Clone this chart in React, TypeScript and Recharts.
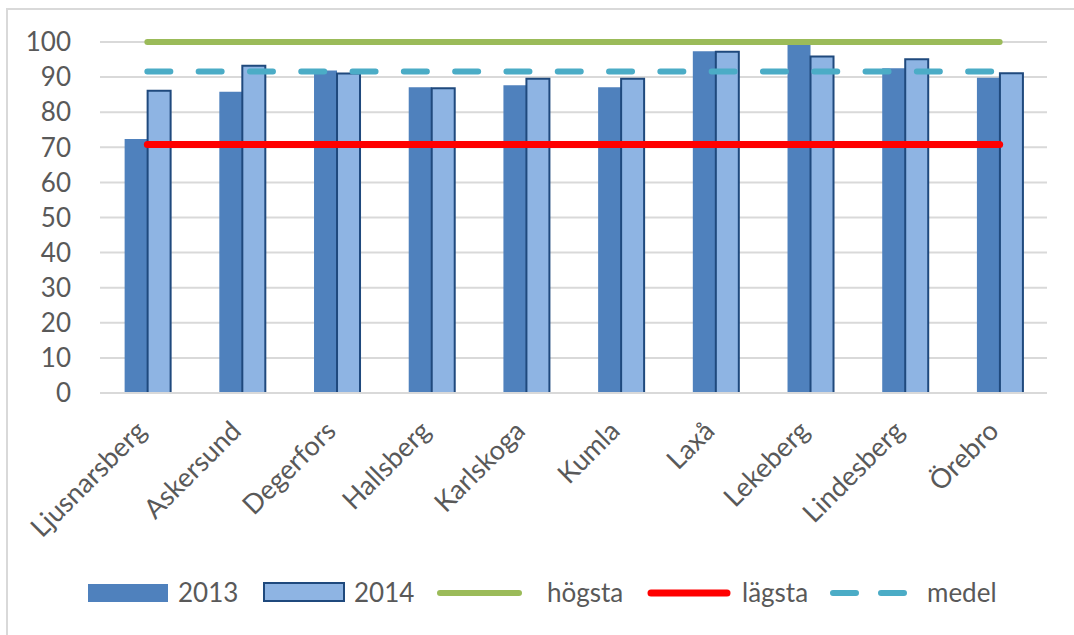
import React from 'react';
import { ComposedChart, Bar, Line, XAxis, YAxis, CartesianGrid } from 'recharts';

const categories = ['Ljusnarsberg', 'Askersund', 'Degerfors', 'Hallsberg', 'Karlskoga', 'Kumla', 'Laxå', 'Lekeberg', 'Lindesberg', 'Örebro'];
const values2013 = [72.4, 85.8, 91.9, 87.1, 87.7, 87.1, 97.4, 100, 92.5, 89.8];
const values2014 = [86.1, 93.2, 91.0, 86.8, 89.5, 89.5, 97.2, 95.9, 95.1, 91.1];
const hogsta = [100, 100, 100, 100, 100, 100, 100, 100, 100, 100];
const lagsta = [70.8, 70.8, 70.8, 70.8, 70.8, 70.8, 70.8, 70.8, 70.8, 70.8];
const medel = [91.6, 91.6, 91.6, 91.6, 91.6, 91.6, 91.6, 91.6, 91.6, 91.6];
const yTicks = [0, 10, 20, 30, 40, 50, 60, 70, 80, 90, 100];

const data = categories.map((name, i) => ({
  name,
  y2013: values2013[i],
  y2014: values2014[i],
  hogsta: hogsta[i],
  lagsta: lagsta[i],
  medel: medel[i],
}));

const FONT = 'Lato, "Open Sans", sans-serif';
const TEXT = '#595959';
const C2013 = '#4F81BD';
const C2014 = '#8EB4E3';
const C2014S = '#1F497D';
const GREEN = '#9BBB59';
const RED = '#FF0000';
const TEAL = '#4BACC6';

const XTick = (props: any) => {
  const { x, y, payload } = props;
  return (
    <text
      x={0}
      y={0}
      dy="0.35em"
      textAnchor="end"
      fill={TEXT}
      fontSize={27}
      fontFamily={FONT}
      transform={`translate(${x - 6},${y + 33}) rotate(-45)`}
    >
      {payload.value}
    </text>
  );
};

const legendText: React.CSSProperties = {
  fontFamily: FONT,
  fontSize: 26,
  color: TEXT,
  position: 'absolute',
  top: 577,
  lineHeight: '30px',
};

export default function App() {
  return (
    <div style={{ position: 'absolute', left: 0, top: 0, width: 1074, height: 635, overflow: 'hidden', background: '#fff' }}>
      <div style={{ position: 'absolute', left: 6, top: 8, width: 1200, height: 800, borderTop: '2px solid #D9D9D9', borderLeft: '2px solid #D9D9D9' }} />
      <div style={{ position: 'absolute', left: 0, top: 0 }}>
        <ComposedChart
          width={1074}
          height={635}
          data={data}
          margin={{ top: 42, right: 27, bottom: 0, left: 0 }}
          barCategoryGap="26%"
          barGap={0}
        >
          <CartesianGrid vertical={false} stroke="#D9D9D9" strokeWidth={2} />
          <XAxis
            dataKey="name"
            height={242}
            tickLine={false}
            tickSize={0}
            tickMargin={0}
            axisLine={{ stroke: '#D9D9D9', strokeWidth: 2 }}
            tick={<XTick />}
            interval={0}
          />
          <YAxis
            width={100}
            domain={[0, 100]}
            ticks={yTicks}
            axisLine={false}
            tickLine={false}
            tickSize={0}
            tickMargin={29}
            tick={{ fill: TEXT, fontSize: 26, fontFamily: FONT }}
            interval={0}
          />
          <Bar dataKey="y2013" fill={C2013} isAnimationActive={false} />
          <Bar dataKey="y2014" fill={C2014} stroke={C2014S} strokeWidth={2} isAnimationActive={false} />
          <Line dataKey="hogsta" stroke={GREEN} strokeWidth={6} strokeLinecap="round" dot={false} activeDot={false} isAnimationActive={false} />
          <Line dataKey="lagsta" stroke={RED} strokeWidth={7} strokeLinecap="round" dot={false} activeDot={false} isAnimationActive={false} />
          <Line dataKey="medel" stroke={TEAL} strokeWidth={6} strokeLinecap="round" strokeDasharray="23 28.3" dot={false} activeDot={false} isAnimationActive={false} />
        </ComposedChart>
      </div>
      {/* legend */}
      <div style={{ position: 'absolute', left: 88, top: 584, width: 80, height: 18, background: C2013 }} />
      <div style={{ ...legendText, left: 178 }}>2013</div>
      <div style={{ position: 'absolute', left: 263, top: 582, width: 78, height: 16, background: C2014, border: `2px solid ${C2014S}` }} />
      <div style={{ ...legendText, left: 354 }}>2014</div>
      <svg style={{ position: 'absolute', left: 0, top: 580 }} width={1074} height={30}>
        <line x1={440} y1={13} x2={519} y2={13} stroke={GREEN} strokeWidth={6} strokeLinecap="round" />
        <line x1={651} y1={13} x2={727} y2={13} stroke={RED} strokeWidth={7} strokeLinecap="round" />
        <line x1={833} y1={13} x2={904} y2={13} stroke={TEAL} strokeWidth={6} strokeLinecap="round" strokeDasharray="23 25" />
      </svg>
      <div style={{ ...legendText, left: 547 }}>högsta</div>
      <div style={{ ...legendText, left: 742 }}>lägsta</div>
      <div style={{ ...legendText, left: 927 }}>medel</div>
    </div>
  );
}
